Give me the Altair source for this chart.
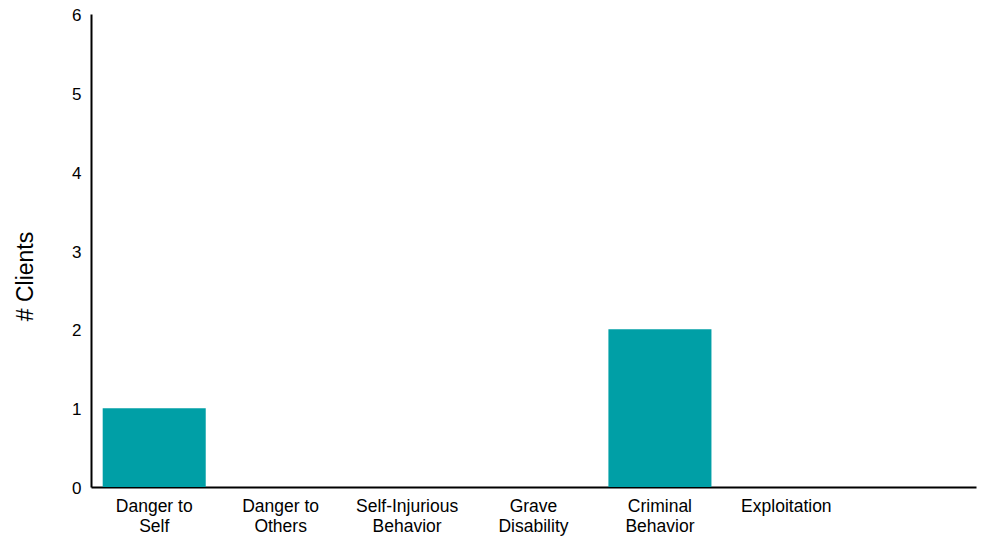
import altair as alt
import pandas as pd

categories = ["Danger to Self", "Danger to Others", "Self-Injurious Behavior",
              "Grave Disability", "Criminal Behavior", "Exploitation", " "]
values = [1, 0, 0, 0, 2, 0, 0]

df = pd.DataFrame({"category": categories, "clients": values})

label_expr = ("lastindexof(datum.label, ' ') > 0 ? "
              "[substring(datum.label, 0, lastindexof(datum.label, ' ')), "
              "substring(datum.label, lastindexof(datum.label, ' ') + 1)] : datum.label")

chart = alt.Chart(df).mark_bar(color="#009FA6").encode(
    x=alt.X("category:N", sort=categories,
            scale=alt.Scale(paddingInner=0.185, paddingOuter=0.0925),
            axis=alt.Axis(title=None, labelAngle=0, ticks=False, labelExpr=label_expr,
                          labelFont="Liberation Sans", labelFontSize=17.5, labelColor="#000000",
                          labelPadding=10, domainColor="#000000", domainWidth=2,
                          labelLineHeight=20)),
    y=alt.Y("clients:Q", scale=alt.Scale(domain=[0, 6], nice=False),
            axis=alt.Axis(title="# Clients", values=[0, 1, 2, 3, 4, 5, 6], ticks=False,
                          grid=False, labelFont="Liberation Sans", labelFontSize=17,
                          labelColor="#000000", labelPadding=10, labelOffset=1.5,
                          domainColor="#000000",
                          domainWidth=2, titleFont="Liberation Sans", titleFontSize=23,
                          titleFontWeight="normal", titleColor="#000000", titlePadding=34,
                          titleY=262)),
).properties(
    width=885, height=473,
    autosize=alt.AutoSizeParams(type="none"),
    padding={"left": 83, "top": 6, "right": 20, "bottom": 50},
).configure_view(stroke=None)

chart.save("out.html", embed_options={"renderer": "svg", "actions": False})
